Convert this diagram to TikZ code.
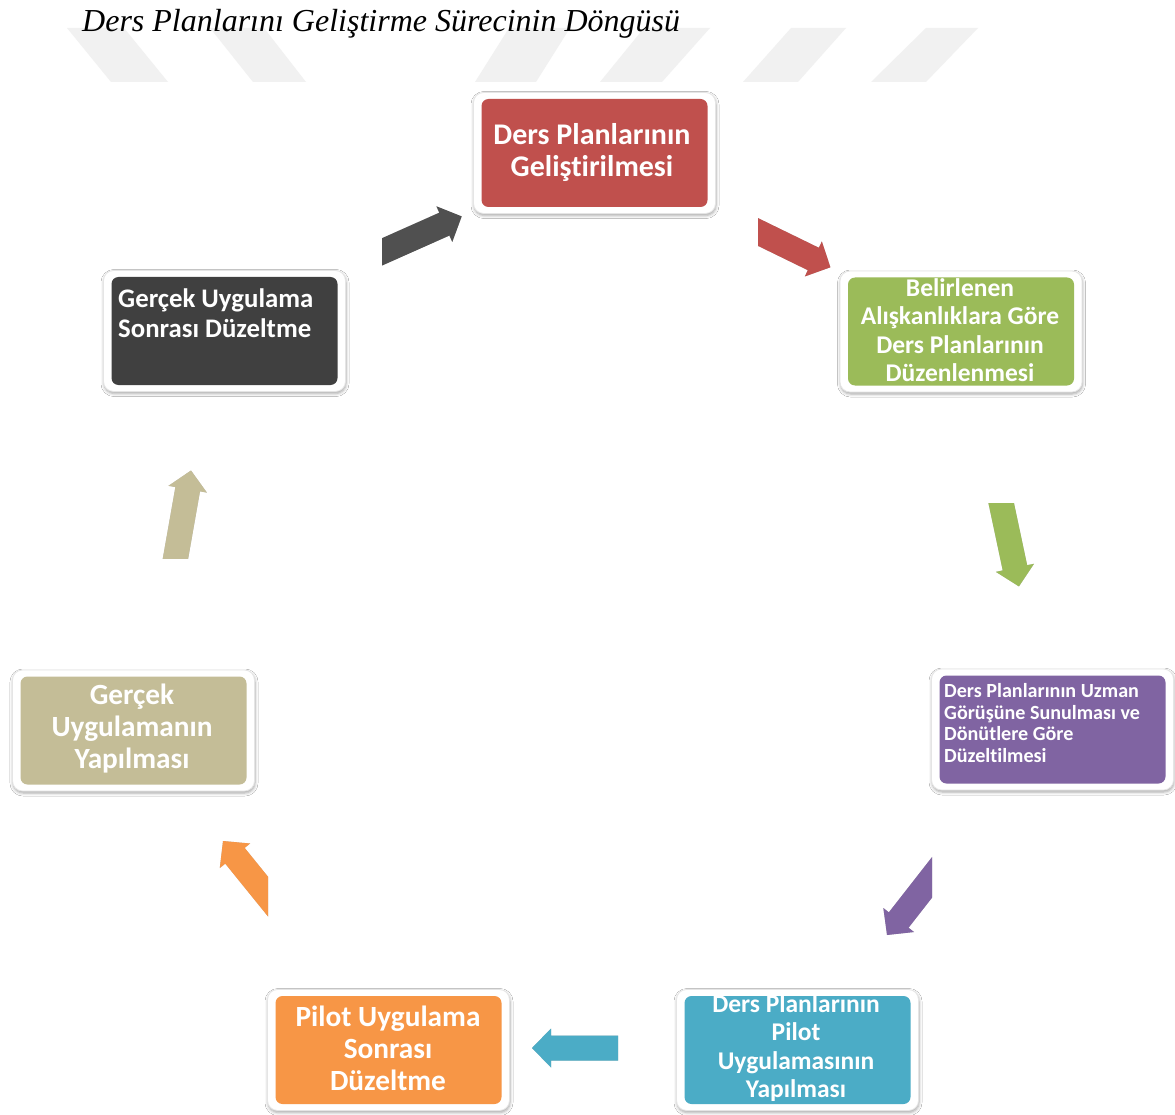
\documentclass[tikz,border=0pt]{standalone}
\usepackage{fontspec}
\setmainfont{Liberation Serif}
\newfontfamily\carlito{Carlito}[Ligatures={NoCommon,NoContextual},RawFeature={-liga;-clig;-calt}]
\usetikzlibrary{shadows.blur}

\definecolor{stRed}{HTML}{C0504D}
\definecolor{stGreen}{HTML}{9BBB59}
\definecolor{stPurple}{HTML}{8064A2}
\definecolor{stBlue}{HTML}{4BACC6}
\definecolor{stOrange}{HTML}{F79646}
\definecolor{stTan}{HTML}{C4BD97}
\definecolor{stDark}{HTML}{404040}
\definecolor{arDark}{HTML}{505050}
\definecolor{stripe}{HTML}{F1F1F1}

% block arrow: tip at #1, pointing in direction #2, colour #3, tail cut by clip region #4
\newcommand\cyclearrow[4]{%
  \begin{scope}
    \clip #4;
    \foreach \s/\o in {1/0.10,2.5/0.09,4/0.06}{
      \begin{scope}[shift={({0.8*\s},{-\s})}]
        \fill[black,opacity=\o,shift={(#1)},rotate=#2,arrowbody];
      \end{scope}}
    \fill[#3,shift={(#1)},rotate=#2,arrowbody];
  \end{scope}}

\begin{document}
\begin{tikzpicture}[x=1pt,y=1pt,
  arrowbody/.style={insert path={(0,0) -- (-19,19.5) -- (-19,12.5) -- (-130,12.5)
      -- (-130,-12.5) -- (-19,-12.5) -- (-19,-19.5) -- cycle}},
  frame/.style={rounded corners=10pt, fill=white, draw=black!10, line width=.8pt,
      minimum width=242pt, minimum height=121pt, inner sep=0pt,
      blur shadow={shadow xshift=.5pt, shadow yshift=-2pt, shadow blur radius=3pt, shadow opacity=35}},
  stage/.style={rounded corners=7pt, fill=#1, minimum width=226pt, minimum height=108pt, inner sep=0pt},
  lbl/.style={text=white, inner sep=0pt, align=center},
  big/.style={font=\carlito\bfseries\fontsize{30}{32}\selectfont},
  mid/.style={font=\carlito\bfseries\fontsize{25.5}{28.4}\selectfont},
  six/.style={font=\carlito\bfseries\fontsize{29.3}{32}\selectfont},
  dk/.style={font=\carlito\bfseries\fontsize{26.8}{30}\selectfont},
  sm/.style={font=\carlito\bfseries\fontsize{20.1}{21.8}\selectfont},
]
\useasboundingbox (0,0) rectangle (1175,-1115);
\fill[white] (0,0) rectangle (1175,-1115);

% light band of slanted stripes behind the heading
\fill[stripe] (67,-28) -- (124,-28) -- (168,-82) -- (111,-82) -- cycle;
\fill[stripe] (210,-28) -- (264,-28) -- (306,-82) -- (253,-82) -- cycle;
\fill[stripe] (509,-28) -- (570,-28) -- (536,-82) -- (475,-82) -- cycle;
\fill[stripe] (644,-28) -- (710,-28) -- (662,-82) -- (600,-82) -- cycle;
\fill[stripe] (791,-28) -- (846,-28) -- (798,-82) -- (743,-82) -- cycle;
\fill[stripe] (926,-28) -- (978,-28) -- (926,-82) -- (871,-82) -- cycle;

\node[anchor=base west, inner sep=0pt, font=\itshape\fontsize{32}{36}\selectfont] (title)
  at (82,-32) {Ders Planlarını Geliştirme Sürecinin Döngüsü};

% stage boxes: white frame, coloured panel, label
\node[frame] (f1) at (594.5,-153) {};
\node[stage=stRed] (b1) at (594.5,-153) {};
\node[lbl,big] (t1) at (592,-152) {Ders Planlarının\\Geliştirilmesi};

\node[frame] (f2) at (961,-331.5) {};
\node[stage=stGreen] (b2) at (961,-331.5) {};
\node[lbl,mid] (t2) at (960,-330) {Belirlenen\\Alışkanlıklara Göre\\Ders Planlarının\\Düzenlenmesi};

\node[frame] (f3) at (1052.5,-729.5) {};
\node[stage=stPurple] (b3) at (1052.5,-729.5) {};
\node[lbl,sm,align=left,anchor=west] (t3) at (944,-723) {Ders Planlarının Uzman\\Görüşüne Sunulması ve\\Dönütlere Göre\\Düzeltilmesi};

\node[frame] (f4) at (797.5,-1050) {};
\node[stage=stBlue] (b4) at (797.5,-1050) {};
\node[lbl,mid] (t4) at (796,-1048) {Ders Planlarının\\Pilot\\Uygulamasının\\Yapılması};

\node[frame] (f5) at (388.5,-1050) {};
\node[stage=stOrange] (b5) at (388.5,-1050) {};
\node[lbl,six] (t5) at (388,-1048) {Pilot Uygulama\\Sonrası\\Düzeltme};

\node[frame] (f6) at (133.5,-730.5) {};
\node[stage=stTan] (b6) at (133.5,-730.5) {};
\node[lbl,six] (t6) at (132,-729) {Gerçek\\Uygulamanın\\Yapılması};

\node[frame] (f7) at (224.5,-331) {};
\node[stage=stDark] (b7) at (224.5,-331) {};
\node[lbl,dk,align=left,anchor=west] (t7) at (118,-313) {Gerçek Uygulama\\Sonrası Düzeltme};

% arrow tips
\coordinate (p1) at (461.7,-216.4);
\coordinate (p2) at (830.4,-267.3);
\coordinate (p3) at (1018.9,-586.4);
\coordinate (p4) at (887,-935);
\coordinate (p5) at (532,-1048);
\coordinate (p6) at (223,-841);
\coordinate (p7) at (191,-470.5);

\cyclearrow{p1}{24}{arDark}{(382,-150) rectangle (560,-320)}
\cyclearrow{p2}{-26}{stRed}{(758,-150) rectangle (900,-320)}
\cyclearrow{p3}{-78}{stGreen}{(940,-503) rectangle (1100,-640)}
\cyclearrow{p4}{232}{stPurple}{(820,-820) rectangle (932,-990)}
\cyclearrow{p5}{180}{stBlue}{(480,-990) rectangle (618,-1100)}
\cyclearrow{p6}{129}{stOrange}{(160,-800) rectangle (268,-960)}
\cyclearrow{p7}{80}{stTan}{(120,-430) rectangle (260,-558)}
\end{tikzpicture}
\end{document}
